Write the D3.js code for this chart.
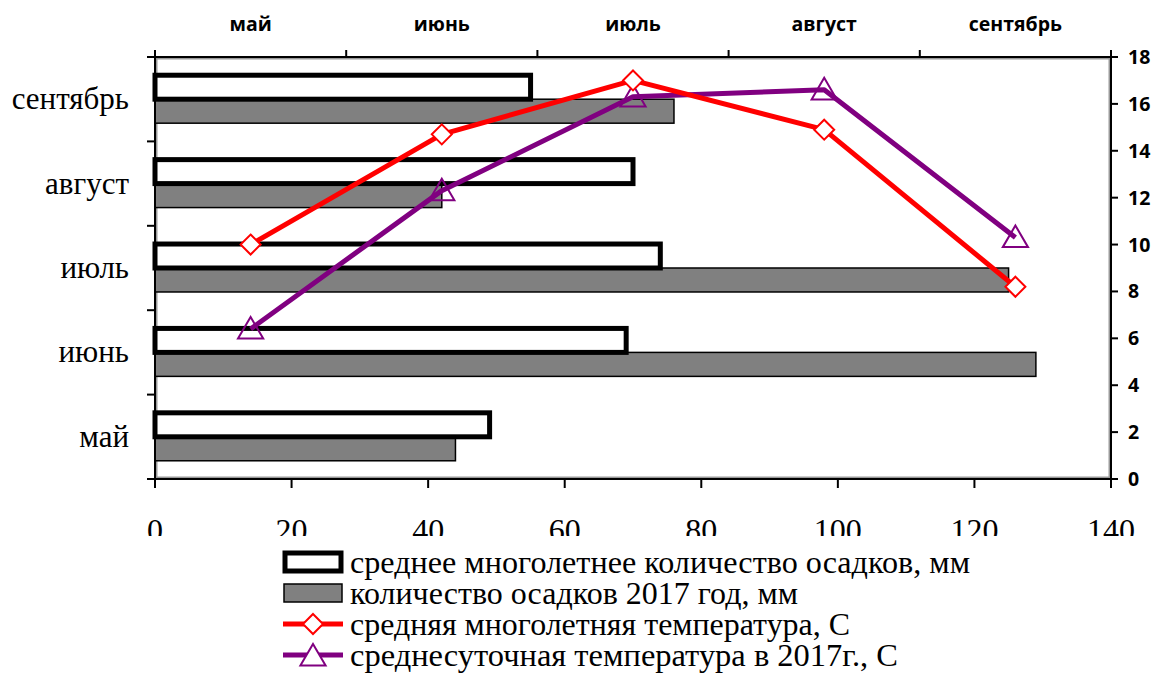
<!DOCTYPE html>
<html><head><meta charset="utf-8">
<script src="https://cdn.jsdelivr.net/npm/d3@7"></script>
<style>body{margin:0;background:#fff}svg{display:block}</style>
</head><body>
<svg id="c" width="1156" height="674"></svg>
<script>
const months = ["май","июнь","июль","август","сентябрь"];
const precipMean = [49, 69, 74, 70, 55];
const precip2017 = [44, 129, 125, 42, 76];
const tempMean = [10.0, 14.7, 17.0, 14.9, 8.2];
const temp2017 = [6.4, 12.3, 16.3, 16.6, 10.3];
const xTicks = [0,20,40,60,80,100,120,140];
const yTempTicks = [0,2,4,6,8,10,12,14,16,18];
const legendLabels = ["среднее многолетнее количество осадков, мм","количество осадков 2017 год, мм","средняя многолетняя температура, С","среднесуточная температура в 2017г., С"];

const svg = d3.select("#c");
const L=155,R=1111,T=57,B=479;
const x = d3.scaleLinear().domain([0,140]).range([L,R]);
const yCat = d3.scaleBand().domain(months).range([B,T]).padding(0);
const ySub = d3.scaleBand().domain(["mean","y2017"]).range([0,yCat.bandwidth()]).paddingInner(0).paddingOuter(0.76);
const xTop = d3.scaleBand().domain(months).range([L,R]).padding(0);
const yT = d3.scaleLinear().domain([0,18]).range([B,T]);

const serif = "'Liberation Serif','Times New Roman',serif";
const sans = "'Open Sans',sans-serif";

// plot area frame (gray inner)
svg.append("rect").attr("x",L+1.5).attr("y",T+1.5).attr("width",R-L-3).attr("height",B-T-3)
  .attr("fill","#fff").attr("stroke","#9a9a9a").attr("stroke-width",2);

// bars
const g = svg.append("g");
months.forEach((m,i)=>{
  g.append("rect").attr("x",x(0)).attr("y",yCat(m)+ySub("y2017"))
    .attr("width",x(precip2017[i])-x(0)).attr("height",ySub.bandwidth())
    .attr("fill","#808080").attr("stroke","#000").attr("stroke-width",1.5);
});
months.forEach((m,i)=>{
  g.append("rect").attr("x",x(0)).attr("y",yCat(m)+ySub("mean"))
    .attr("width",x(precipMean[i])-x(0)).attr("height",ySub.bandwidth())
    .attr("fill","#fff").attr("stroke","#000").attr("stroke-width",5);
});

// axes lines
const ax = svg.append("g").attr("stroke","#000").attr("stroke-width",2);
ax.append("line").attr("x1",L).attr("x2",L).attr("y1",T-3).attr("y2",B);
ax.append("line").attr("x1",L-7).attr("x2",R).attr("y1",T).attr("y2",T);
ax.append("line").attr("x1",L).attr("x2",R).attr("y1",B).attr("y2",B);
ax.append("line").attr("x1",R).attr("x2",R).attr("y1",T-3).attr("y2",B+3);

// left ticks at band edges
const catEdges = months.map(m=>yCat(m)).concat([B]);
catEdges.forEach(v=>ax.append("line").attr("x1",L-8).attr("x2",L).attr("y1",v).attr("y2",v));
// top ticks
months.map(m=>xTop(m)).concat([R]).forEach(v=>ax.append("line").attr("x1",v).attr("x2",v).attr("y1",T-7).attr("y2",T));
// bottom ticks
xTicks.forEach(t=>ax.append("line").attr("x1",x(t)).attr("x2",x(t)).attr("y1",B).attr("y2",B+9));
// right ticks
yTempTicks.forEach(t=>ax.append("line").attr("x1",R).attr("x2",R+7).attr("y1",yT(t)).attr("y2",yT(t)));

// left labels
months.forEach(m=>{
  svg.append("text").attr("x",129).attr("y",yCat(m)+yCat.bandwidth()/2+10)
    .attr("text-anchor","end").attr("font-family",serif).attr("font-size",31).text(m);
});
// top labels
months.forEach(m=>{
  svg.append("text").attr("x",xTop(m)+xTop.bandwidth()/2).attr("y",31)
    .attr("text-anchor","middle").attr("font-family",sans).attr("font-weight","bold").attr("font-size",19.5).text(m);
});
// right labels
yTempTicks.forEach(t=>{
  svg.append("text").attr("x",1128).attr("y",yT(t)+7)
    .attr("font-family",sans).attr("font-weight","bold").attr("font-size",19.5).text(t);
});
// bottom labels, clipped
svg.append("clipPath").attr("id","clipB").append("rect").attr("x",0).attr("y",490).attr("width",1156).attr("height",46);
const bl = svg.append("g").attr("clip-path","url(#clipB)");
xTicks.forEach(t=>{
  bl.append("text").attr("x",x(t)).attr("y",541).attr("text-anchor","middle")
    .attr("font-family",serif).attr("font-size",32).text(t);
});

// lines
const xp = (i)=>xTop(months[i])+xTop.bandwidth()/2;
const line = d3.line().x((d,i)=>xp(i)).y(d=>yT(d));
svg.append("path").datum(temp2017).attr("d",line).attr("fill","none").attr("stroke","#800080").attr("stroke-width",5).attr("stroke-linejoin","round");
svg.append("path").datum(tempMean).attr("d",line).attr("fill","none").attr("stroke","#ff0000").attr("stroke-width",5).attr("stroke-linejoin","round");

const diamond = (cx,cy,s)=>`M${cx},${cy-s}L${cx+s},${cy}L${cx},${cy+s}L${cx-s},${cy}Z`;
const tri = (cx,cy,s)=>`M${cx},${cy-s}L${cx+s*1.05},${cy+s*0.8}L${cx-s*1.05},${cy+s*0.8}Z`;
temp2017.forEach((v,i)=>svg.append("path").attr("d",tri(xp(i),yT(v),12)).attr("fill","none").attr("stroke","#800080").attr("stroke-width",2));
tempMean.forEach((v,i)=>svg.append("path").attr("d",diamond(xp(i),yT(v),10)).attr("fill","#fff").attr("stroke","#ff0000").attr("stroke-width",2));

// legend
const lg = svg.append("g");
const ly = [562,593,624,655];
const lx0=283, lx1=343;
lg.append("rect").attr("x",lx0+2).attr("y",ly[0]-9).attr("width",lx1-lx0-4).attr("height",18).attr("fill","#fff").attr("stroke","#000").attr("stroke-width",5);
lg.append("rect").attr("x",lx0+1).attr("y",ly[1]-9).attr("width",lx1-lx0-2).attr("height",18).attr("fill","#808080").attr("stroke","#000").attr("stroke-width",1.5);
lg.append("line").attr("x1",lx0).attr("x2",lx1).attr("y1",ly[2]).attr("y2",ly[2]).attr("stroke","#ff0000").attr("stroke-width",5);
lg.append("path").attr("d",diamond(313,ly[2],10)).attr("fill","#fff").attr("stroke","#ff0000").attr("stroke-width",2);
lg.append("line").attr("x1",lx0).attr("x2",lx1).attr("y1",ly[3]).attr("y2",ly[3]).attr("stroke","#800080").attr("stroke-width",5);
lg.append("path").attr("d",tri(313,ly[3]+1,12)).attr("fill","#fff").attr("stroke","#800080").attr("stroke-width",2);
const lw = [620,448,500,548];
legendLabels.forEach((t,i)=>{
  lg.append("text").attr("x",350).attr("y",ly[i]+11).attr("font-family",serif).attr("font-size",31)
    .attr("textLength",lw[i]).attr("lengthAdjust","spacingAndGlyphs").text(t);
});
</script>
</body></html>
